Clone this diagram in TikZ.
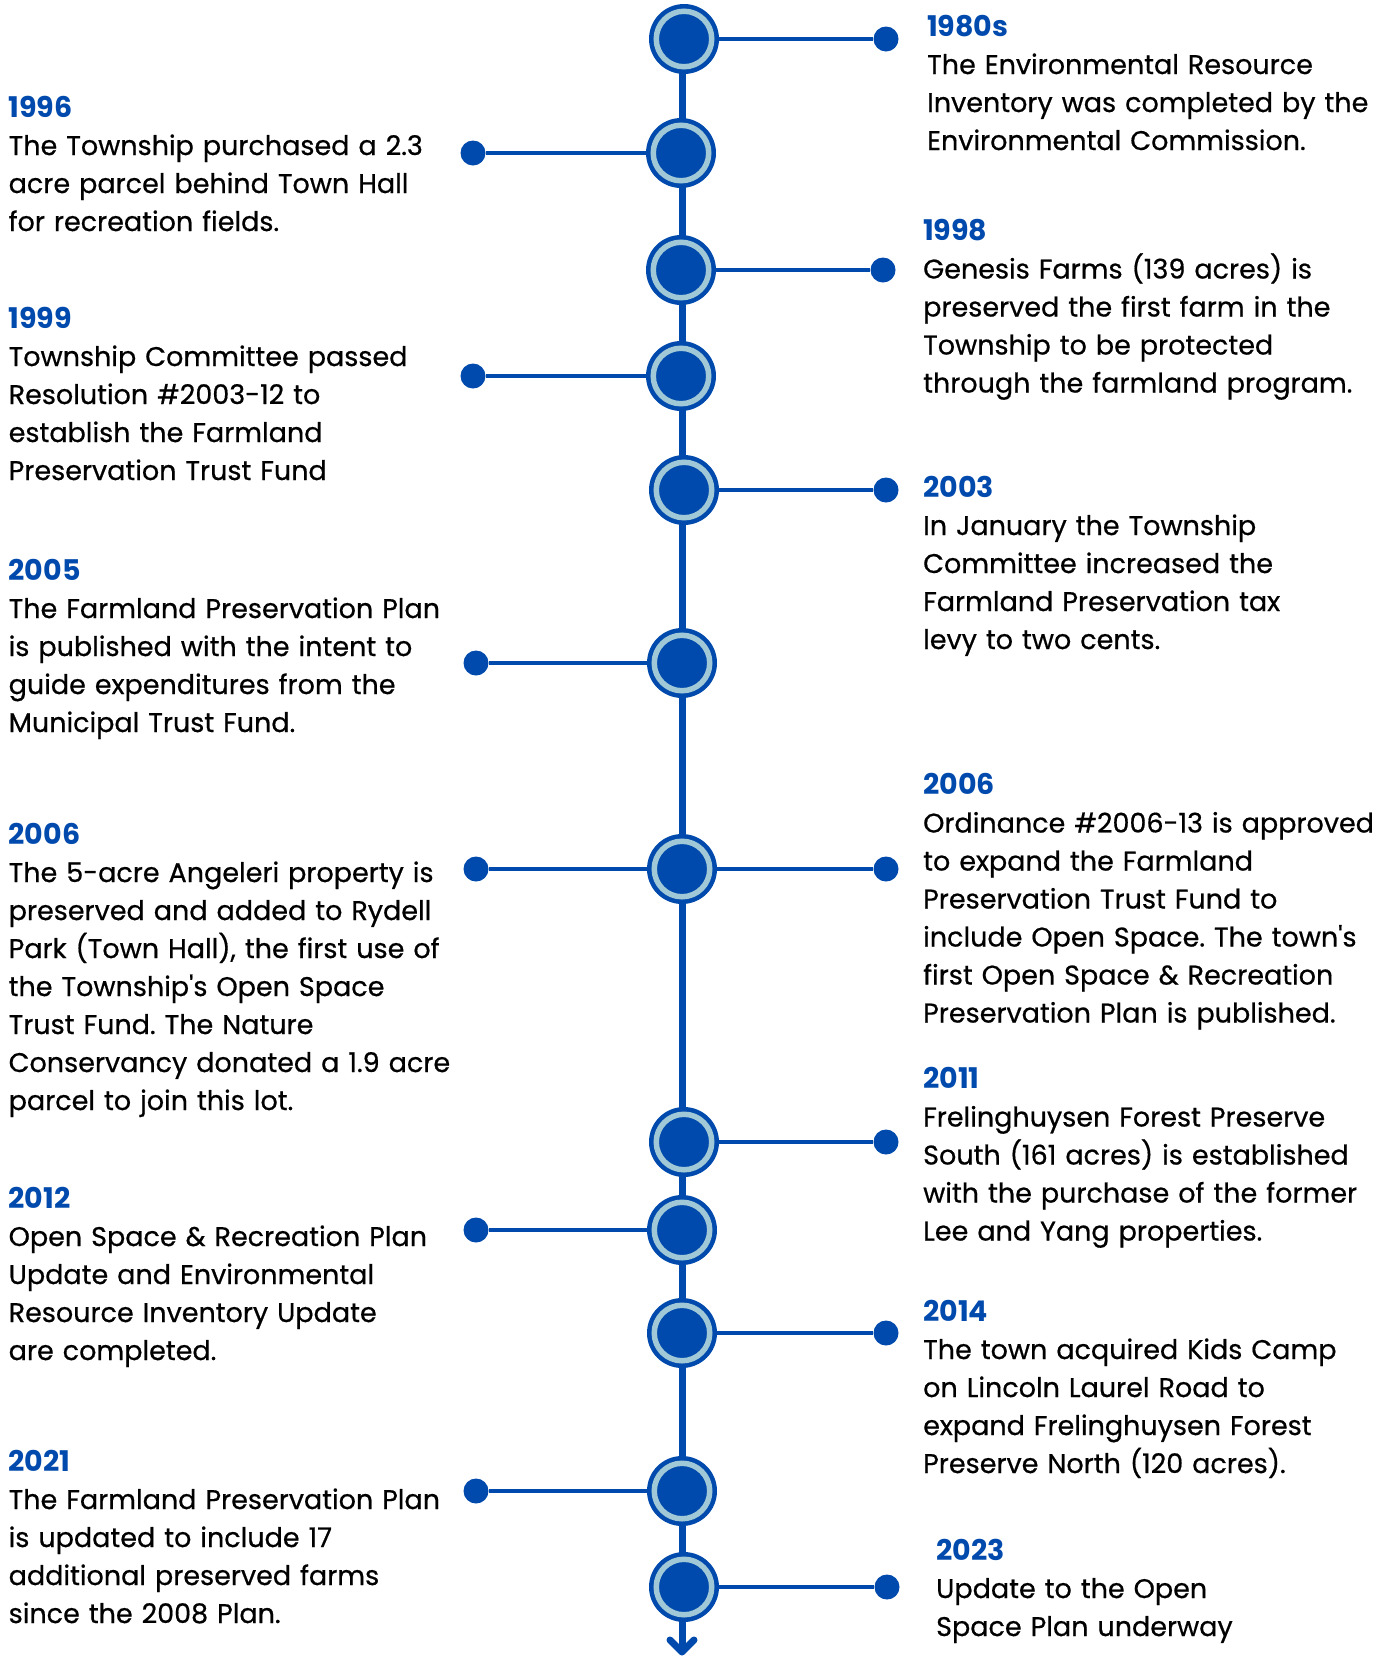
\documentclass[tikz,border=0pt]{standalone}
\usepackage{fontspec}
\setmainfont{Poppins}
\newfontfamily\bodyfont{Poppins}[FakeBold=0.6]
\usetikzlibrary{calc}
\definecolor{tlblue}{HTML}{004AAD}
\definecolor{ringblue}{HTML}{A0C8D6}
\frenchspacing
\begin{document}
\begin{tikzpicture}[x=1pt,y=-1pt,
  hub/.style={circle,fill=tlblue,minimum size=70pt,inner sep=0pt,
    path picture={\draw[ringblue,line width=5.5pt] (path picture bounding box.center) circle (27.75pt);}},
  enddot/.style={circle,fill=tlblue,minimum size=25pt,inner sep=0pt},
  hline/.style={tlblue,line width=4pt},
  spine/.style={tlblue,line width=7pt},
  ev/.style={anchor=base west,align=left,inner sep=0pt,text width=470pt,
    font=\bodyfont\fontsize{27}{38}\selectfont}]
\useasboundingbox[fill=white] (0,0) rectangle (1382,1658);
\newcommand{\yr}[1]{\textcolor{tlblue}{\normalfont\fontsize{28.5}{38}\selectfont\bfseries #1}}
\newcommand{\apo}{{\char39}}
% spine
\coordinate (spinetop) at (682,40);
\coordinate (spineend) at (682,1652);
\draw[spine] (spinetop) -- (spineend);
\draw[spine,line cap=round,line join=round] ($(spineend)+(-12,-12)$) -- (spineend) -- ($(spineend)+(12,-12)$);
% hubs
\node[hub] (c1) at (684,39) {};
\node[hub] (c2) at (681,153) {};
\node[hub] (c3) at (681,270) {};
\node[hub] (c4) at (681,376) {};
\node[hub] (c5) at (684,490) {};
\node[hub] (c6) at (682,663) {};
\node[hub] (c7) at (682,869) {};
\node[hub] (c8) at (684,1142) {};
\node[hub] (c9) at (682,1230) {};
\node[hub] (c10) at (682,1333) {};
\node[hub] (c11) at (682,1491) {};
\node[hub] (c12) at (684,1587) {};
% dots
\node[enddot] (d1) at (886,39) {};
\node[enddot] (d2) at (473,153) {};
\node[enddot] (d3) at (883,270) {};
\node[enddot] (d4) at (473,376) {};
\node[enddot] (d5) at (886,490) {};
\node[enddot] (d6) at (476,663) {};
\node[enddot] (d7l) at (476,869) {};
\node[enddot] (d7r) at (886,869) {};
\node[enddot] (d8) at (886,1142) {};
\node[enddot] (d9) at (476,1230) {};
\node[enddot] (d10) at (886,1333) {};
\node[enddot] (d11) at (476,1491) {};
\node[enddot] (d12) at (887,1587) {};
% connectors
\foreach \a/\b in {c1/d1,c2/d2,c3/d3,c4/d4,c5/d5,c6/d6,c7/d7l,c7/d7r,c8/d8,c9/d9,c10/d10,c11/d11,c12/d12}
  \draw[hline] (\a) -- (\b);
% texts right
\node[ev] (t1) at (927,36) {\yr{1980s}\\The Environmental Resource\\Inventory was completed by the\\Environmental Commission.};
\node[ev] (t3) at (923,240.5) {\yr{1998}\\Genesis Farms (139 acres) is\\preserved the first farm in the\\Township to be protected\\through the farmland program.};
\node[ev] (t5) at (923,497) {\yr{2003}\\In January the Township\\Committee increased the\\Farmland Preservation tax\\levy to two cents.};
\node[ev] (t7r) at (923,794.5) {\yr{2006}\\Ordinance \#2006-13 is approved\\to expand the Farmland\\Preservation Trust Fund to\\include Open Space. The town\apo s\\first Open Space \& Recreation\\Preservation Plan is published.};
\node[ev] (t8) at (923,1088.5) {\yr{2011}\\Frelinghuysen Forest Preserve\\South (161 acres) is established\\with the purchase of the former\\Lee and Yang properties.};
\node[ev] (t10) at (923,1321) {\yr{2014}\\The town acquired Kids Camp\\on Lincoln Laurel Road to\\expand Frelinghuysen Forest\\Preserve North (120 acres).};
\node[ev] (t12) at (936,1560) {\yr{2023}\\Update to the Open\\Space Plan underway};
% texts left
\node[ev] (t2) at (8.5,117) {\yr{1996}\\The Township purchased a 2.3\\acre parcel behind Town Hall\\for recreation fields.};
\node[ev] (t4) at (8.5,328) {\yr{1999}\\Township Committee passed\\Resolution \#2003-12 to\\establish the Farmland\\Preservation Trust Fund};
\node[ev] (t6) at (8.5,580) {\yr{2005}\\The Farmland Preservation Plan\\is published with the intent to\\guide expenditures from the\\Municipal Trust Fund.};
\node[ev] (t7l) at (8.5,844) {\yr{2006}\\The 5-acre Angeleri property is\\preserved and added to Rydell\\Park (Town Hall), the first use of\\the Township\apo s Open Space\\Trust Fund. The Nature\\Conservancy donated a 1.9 acre\\parcel to join this lot.};
\node[ev] (t9) at (8.5,1208) {\yr{2012}\\Open Space \& Recreation Plan\\Update and Environmental\\Resource Inventory Update\\are completed.};
\node[ev] (t11) at (8.5,1471) {\yr{2021}\\The Farmland Preservation Plan\\is updated to include 17\\additional preserved farms\\since the 2008 Plan.};
\end{tikzpicture}
\end{document}
